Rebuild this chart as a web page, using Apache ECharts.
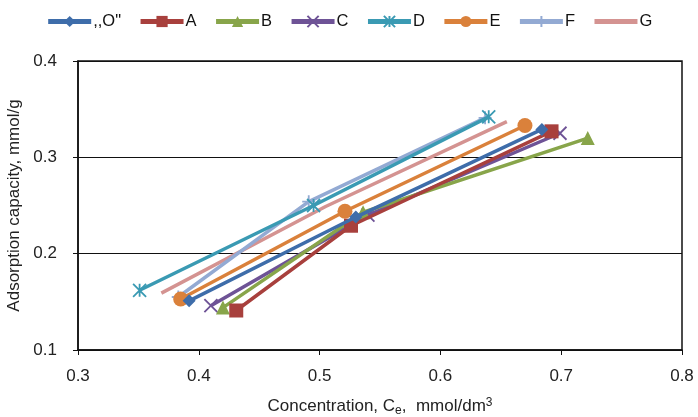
<!DOCTYPE html>
<html><head><meta charset="utf-8">
<script src="https://cdn.jsdelivr.net/npm/echarts@6/dist/echarts.min.js"></script>
<style>html,body{margin:0;padding:0;background:#fff}#c{width:698px;height:417px}</style>
</head><body><div id="c"></div>
<script>
const seriesNames = [',,O"', 'A', 'B', 'C', 'D', 'E', 'F', 'G'];
const sO = [[0.392,0.151],[0.530,0.238],[0.684,0.329]];
const sA = [[0.431,0.141],[0.526,0.229],[0.692,0.327]];
const sB = [[0.420,0.144],[0.536,0.243],[0.722,0.320]];
const sC = [[0.410,0.146],[0.540,0.240],[0.699,0.325]];
const sD = [[0.351,0.162],[0.495,0.250],[0.640,0.342]];
const sE = [[0.385,0.153],[0.521,0.244],[0.670,0.333]];
const sF = [[0.383,0.155],[0.491,0.254],[0.637,0.341]];
const sG = [[0.369,0.159],[0.505,0.249],[0.655,0.337]];
const seriesData = [sO, sA, sB, sC, sD, sE, sF, sG];

const colors = ['#3E6DAA','#A8403D','#88A54A','#6E5396','#3A9AB3','#DA813B','#93AAD3','#D49391'];
const symbols = ['diamond','rect','triangle',
  'path://M0,0L10,10M10,0L0,10',
  'path://M5,0L5,10M0,0L10,10M10,0L0,10',
  'circle',
  'path://M5,0L5,10M0,5L10,5',
  'none'];
const sizes = [13,14,14,13,13,15,13,0];
const stroked = [false,false,false,true,true,false,true,false];

const chart = echarts.init(document.getElementById('c'));
const font = 'Liberation Sans, Arial, sans-serif';
chart.setOption({
  animation:false,
  color: colors,
  textStyle:{fontFamily:font},
  legend:{
    top:8, left:'center', itemWidth:43, itemHeight:14, itemGap:17,
    lineStyle:{width:5},
    textStyle:{fontSize:16.5, color:'#111', fontFamily:font, padding:[2,0,0,-3]},
    data: seriesNames.map(n => n === 'G' ? {name:n, itemStyle:{opacity:0}} : n)
  },
  grid:{left:78, right:16, top:61, bottom:67, show:true, borderColor:'#111', borderWidth:1.5,
        containLabel:false, outerBoundsMode:'none'},
  xAxis:{
    type:'value', min:0.3, max:0.8, interval:0.1,
    axisLine:{show:true, lineStyle:{color:'#111', width:1.5}},
    axisTick:{show:true, length:5, lineStyle:{color:'#111'}},
    splitLine:{show:false},
    axisLabel:{fontSize:17, color:'#222', margin:18, formatter:v=>v.toFixed(1)},
    name:'{a|Concentration, C}{sub|e}{a|,  mmol/dm}{sup|3}',
    nameLocation:'middle', nameGap:46,
    nameTextStyle:{rich:{
      a:{fontSize:17, color:'#222', fontFamily:font},
      sub:{fontSize:12, color:'#222', fontFamily:font, padding:[9,0,0,0]},
      sup:{fontSize:12, color:'#222', fontFamily:font, padding:[0,0,8,0]}
    }}
  },
  yAxis:{
    type:'value', min:0.1, max:0.4, interval:0.1,
    axisLine:{show:true, lineStyle:{color:'#111', width:1.5}},
    axisTick:{show:true, length:5, lineStyle:{color:'#111'}},
    splitLine:{show:true, lineStyle:{color:'#111', width:1}},
    axisLabel:{fontSize:17, color:'#222', margin:21, formatter:v=>v.toFixed(1)},
    name:'Adsorption capacity, mmol/g', nameLocation:'middle', nameGap:52,
    nameTextStyle:{fontSize:17, color:'#222', fontFamily:font}
  },
  series: seriesNames.map((n,i)=>({
    name:n, type:'line', data:seriesData[i],
    symbol:symbols[i], symbolSize:sizes[i], showSymbol: symbols[i]!=='none',
    lineStyle:{width:3.5, color:colors[i]},
    itemStyle: stroked[i] ? {color:'rgba(0,0,0,0)', borderColor:colors[i], borderWidth:1.8}
                          : {color:colors[i], borderWidth:0},
    z: 10-i
  }))
});
</script></body></html>
